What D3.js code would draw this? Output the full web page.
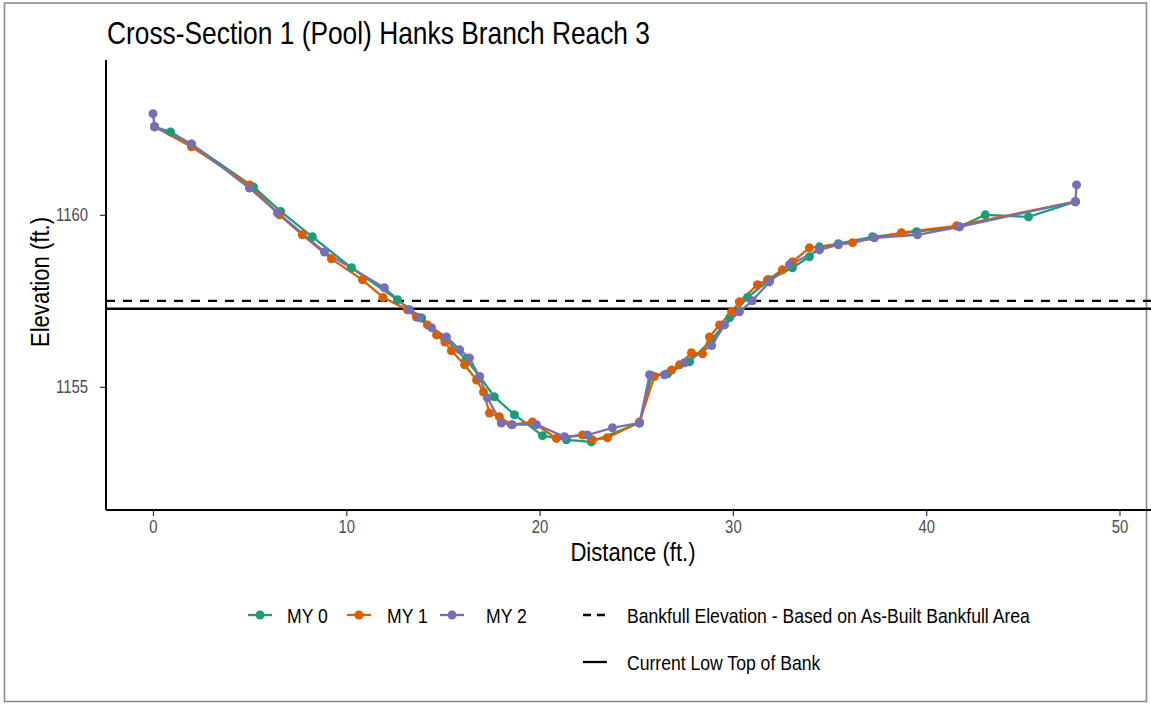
<!DOCTYPE html>
<html>
<head>
<meta charset="utf-8">
<script src="https://cdn.jsdelivr.net/npm/d3@7"></script>
<style>
  body { margin: 0; background: #fff; }
  svg { display: block; }
  text { font-family: "Liberation Sans", Arial, Helvetica, sans-serif; }
</style>
</head>
<body>
<svg id="chart" width="1151" height="704"></svg>
<script>
// Survey data: distance across the section (ft) and ground elevation (ft)
const my0Distance = [0.08, 0.91, 1.99, 5.20, 6.6, 8.25, 10.27, 12.65, 13.9, 15.1, 16.2, 16.9, 17.66, 18.70, 20.15, 21.39, 22.68, 25.17, 25.79, 26.62, 27.76, 28.90, 29.83, 30.76, 31.89, 33.08, 33.96, 34.48, 35.46, 37.22, 39.50, 41.72, 43.06, 45.29, 47.72];
const my0Elevation = [1162.56, 1162.41, 1162.05, 1160.81, 1160.1, 1159.36, 1158.46, 1157.53, 1157.0, 1156.4, 1155.8, 1155.3, 1154.71, 1154.19, 1153.58, 1153.46, 1153.40, 1153.95, 1155.32, 1155.38, 1155.73, 1156.37, 1157.01, 1157.6, 1158.11, 1158.46, 1158.78, 1159.07, 1159.16, 1159.36, 1159.51, 1159.65, 1160.0, 1159.94, 1160.38];

const my1Distance = [0.08, 1.99, 5.0, 6.54, 7.73, 9.23, 10.84, 11.9, 13.16, 13.63, 14.2, 14.67, 15.1, 15.44, 16.12, 16.74, 17.1, 17.41, 17.92, 18.54, 19.63, 20.87, 22.22, 22.73, 23.51, 25.17, 25.94, 26.83, 27.24, 27.86, 28.43, 28.79, 29.31, 29.93, 30.34, 31.27, 31.79, 32.56, 33.08, 33.96, 36.19, 38.72, 41.57, 47.72];
const my1Elevation = [1162.56, 1161.98, 1160.87, 1160.0, 1159.42, 1158.72, 1158.11, 1157.6, 1157.24, 1157.03, 1156.8, 1156.51, 1156.3, 1156.05, 1155.64, 1155.2, 1154.85, 1154.24, 1154.13, 1153.90, 1153.98, 1153.50, 1153.60, 1153.46, 1153.52, 1153.98, 1155.3, 1155.49, 1155.64, 1155.99, 1155.96, 1156.45, 1156.8, 1157.18, 1157.47, 1157.97, 1158.11, 1158.40, 1158.63, 1159.04, 1159.19, 1159.48, 1159.68, 1160.38];

const my2Distance = [0, 0.08, 1.99, 4.99, 6.44, 8.87, 11.97, 13.27, 13.79, 14.41, 15.18, 15.86, 16.37, 16.89, 17.30, 18.02, 18.59, 19.84, 21.29, 22.48, 23.77, 25.17, 25.69, 26.46, 27.50, 28.90, 29.57, 30.34, 31.0, 31.89, 32.93, 34.48, 35.46, 37.32, 39.55, 41.72, 47.72, 47.78];
const my2Elevation = [1162.94, 1162.56, 1162.06, 1160.78, 1160.06, 1158.92, 1157.88, 1157.24, 1157.01, 1156.72, 1156.45, 1156.08, 1155.84, 1155.29, 1154.68, 1153.95, 1153.90, 1153.90, 1153.55, 1153.60, 1153.81, 1153.95, 1155.35, 1155.35, 1155.70, 1156.2, 1156.8, 1157.18, 1157.5, 1158.05, 1158.55, 1158.98, 1159.13, 1159.33, 1159.42, 1159.65, 1160.38, 1160.87];

const seriesNames = ["MY 0", "MY 1", "MY 2"];
const seriesColors = ["#1B9E77", "#D95F02", "#7570B3"];

const bankfullElevation = 1157.5;
const lowTopOfBank = 1157.27;

const xTicks = [0, 10, 20, 30, 40, 50];
const yTicks = [1155, 1160];

const titleText = "Cross-Section 1 (Pool) Hanks Branch Reach 3";
const xTitle = "Distance (ft.)";
const yTitle = "Elevation (ft.)";
const bankfullLabel = "Bankfull Elevation - Based on As-Built Bankfull Area";
const topOfBankLabel = "Current Low Top of Bank";

// ---- layout ----
const squeeze = 0.85;          // narrow type
const panel = { left: 106, right: 1151, top: 60, bottom: 510 };

const svg = d3.select("#chart");
svg.append("rect").attr("width", 1151).attr("height", 704).attr("fill", "#fff");

// page frame
svg.append("rect")
  .attr("x", 4.5).attr("y", 3).attr("width", 1142).attr("height", 698.5)
  .attr("fill", "none").attr("stroke", "#8a8a8a").attr("stroke-width", 1.6);

const x = d3.scaleLinear().domain([-2.43, 51.63]).range([panel.left, panel.right]);
const y = d3.scaleLinear().domain([1151.42, 1164.5]).range([panel.bottom, panel.top]);

function label(g, str, px, py, size, anchor, opts = {}) {
  const rot = opts.rotate ? ` rotate(${opts.rotate})` : "";
  return g.append("text")
    .attr("transform", `translate(${px},${py})${rot} scale(${squeeze},1)`)
    .attr("text-anchor", anchor)
    .attr("font-size", size)
    .attr("fill", opts.fill || "#000")
    .text(str);
}

// title
label(svg, titleText, 107, 44, 31, "start");

// reference lines
svg.append("line")
  .attr("x1", panel.left).attr("x2", panel.right)
  .attr("y1", y(bankfullElevation)).attr("y2", y(bankfullElevation))
  .attr("stroke", "#000").attr("stroke-width", 2.3).attr("stroke-dasharray", "9,8");
svg.append("line")
  .attr("x1", panel.left).attr("x2", panel.right)
  .attr("y1", y(lowTopOfBank)).attr("y2", y(lowTopOfBank))
  .attr("stroke", "#000").attr("stroke-width", 2.3);

// axes
const xAxis = svg.append("g")
  .attr("transform", `translate(0,${panel.bottom})`)
  .call(d3.axisBottom(x).tickValues(xTicks).tickSize(6).tickPadding(5).tickFormat(d3.format("d")));
const yAxis = svg.append("g")
  .attr("transform", `translate(${panel.left},0)`)
  .call(d3.axisLeft(y).tickValues(yTicks).tickSize(6).tickPadding(12).tickFormat(d3.format("d")));

[xAxis, yAxis].forEach(ax => {
  ax.select(".domain").attr("stroke", "#000").attr("stroke-width", 2);
  ax.selectAll(".tick line").attr("stroke", "#333").attr("stroke-width", 1.2);
  ax.selectAll(".tick text")
    .attr("font-family", '"Liberation Sans", Arial, sans-serif')
    .attr("font-size", 17.5).attr("fill", "#4D4D4D");
});
// strip the end caps d3 draws on the domain path
xAxis.select(".domain").attr("d", `M${panel.left},0H${panel.right}`);
yAxis.select(".domain").attr("d", `M0,${panel.top}V${panel.bottom}`);
xAxis.selectAll(".tick text").attr("transform", `scale(${squeeze},1)`);
yAxis.selectAll(".tick text").attr("transform", `scale(${squeeze},1)`).attr("x", -18 / squeeze);

// axis titles
label(svg, xTitle, 633, 561, 26, "middle");
label(svg, yTitle, 49, 282, 26, "middle", { rotate: -90 });

// series
const series = [
  { name: seriesNames[0], color: seriesColors[0], pts: d3.zip(my0Distance, my0Elevation) },
  { name: seriesNames[1], color: seriesColors[1], pts: d3.zip(my1Distance, my1Elevation) },
  { name: seriesNames[2], color: seriesColors[2], pts: d3.zip(my2Distance, my2Elevation) }
];

const line = d3.line().x(d => x(d[0])).y(d => y(d[1]));
const plot = svg.append("g");
series.forEach(s => {
  plot.append("path").attr("d", line(s.pts))
    .attr("fill", "none").attr("stroke", s.color).attr("stroke-width", 2.3)
    .attr("stroke-linejoin", "round");
});
series.forEach(s => {
  plot.selectAll(null).data(s.pts).join("circle")
    .attr("cx", d => x(d[0])).attr("cy", d => y(d[1])).attr("r", 4.5)
    .attr("fill", s.color);
});

// legend
const legend = svg.append("g");
const row1 = 615, row2 = 662, legendSize = 20.7;
const keyX = [248, 347, 440];
const textX = [287, 387, 486];
series.forEach((s, i) => {
  legend.append("line").attr("x1", keyX[i]).attr("x2", keyX[i] + 24)
    .attr("y1", row1).attr("y2", row1).attr("stroke", s.color).attr("stroke-width", 2.3);
  legend.append("circle").attr("cx", keyX[i] + 12).attr("cy", row1).attr("r", 4.5).attr("fill", s.color);
  label(legend, s.name, textX[i], row1 + 7.5, legendSize, "start");
});
legend.append("line").attr("x1", 583).attr("x2", 607).attr("y1", row1).attr("y2", row1)
  .attr("stroke", "#000").attr("stroke-width", 2.3).attr("stroke-dasharray", "8,6");
label(legend, bankfullLabel, 627, row1 + 7.5, legendSize, "start");
legend.append("line").attr("x1", 583).attr("x2", 607).attr("y1", row2).attr("y2", row2)
  .attr("stroke", "#000").attr("stroke-width", 2.3);
label(legend, topOfBankLabel, 627, row2 + 7.5, legendSize, "start");
</script>
</body>
</html>
